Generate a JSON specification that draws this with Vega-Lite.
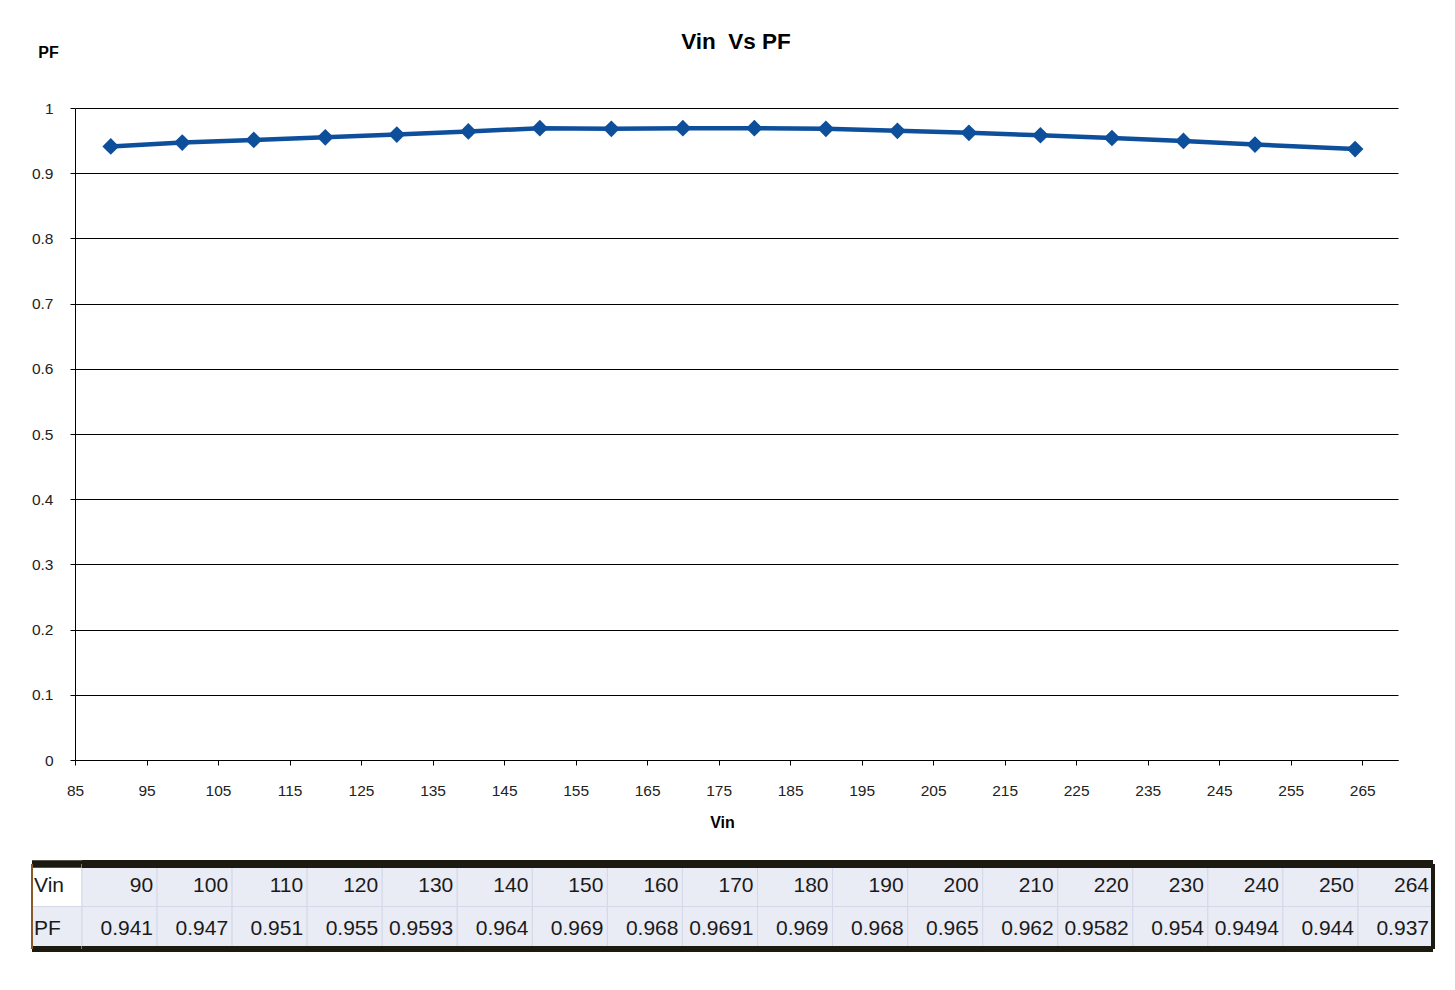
{
  "$schema": "https://vega.github.io/schema/vega-lite/v6.json",
  "background": "white",
  "padding": {"left": 28, "top": 30, "right": 10, "bottom": 10},
  "config": {
    "font": "Liberation Sans",
    "view": {"stroke": null}
  },
  "datasets": {
    "readings": [
      {"vin": 90, "pf": 0.941},
      {"vin": 100, "pf": 0.947},
      {"vin": 110, "pf": 0.951},
      {"vin": 120, "pf": 0.955},
      {"vin": 130, "pf": 0.9593},
      {"vin": 140, "pf": 0.964},
      {"vin": 150, "pf": 0.969},
      {"vin": 160, "pf": 0.968},
      {"vin": 170, "pf": 0.9691},
      {"vin": 180, "pf": 0.969},
      {"vin": 190, "pf": 0.968},
      {"vin": 200, "pf": 0.965},
      {"vin": 210, "pf": 0.962},
      {"vin": 220, "pf": 0.9582},
      {"vin": 230, "pf": 0.954},
      {"vin": 240, "pf": 0.9494},
      {"vin": 250, "pf": 0.944},
      {"vin": 264, "pf": 0.937}
    ],
    "rowNames": [
      {"row": "vin", "label": "Vin"},
      {"row": "pf", "label": "PF"}
    ]
  },
  "align": "none",
  "spacing": 30,
  "vconcat": [
    {
      "width": 1366,
      "height": 652,
      "data": {"name": "readings"},
      "title": {
        "text": "Vin\u00a0 Vs PF",
        "font": "Liberation Sans",
        "fontSize": 22.5,
        "fontWeight": "bold",
        "color": "#000000",
        "anchor": "middle",
        "dx": 21,
        "offset": -9
      },
      "mark": {
        "type": "line",
        "color": "#0E4F9C",
        "strokeWidth": 4.5,
        "point": {"shape": "diamond", "size": 280, "filled": true, "color": "#0E4F9C", "opacity": 1}
      },
      "encoding": {
        "x": {
          "field": "vin",
          "type": "quantitative",
          "scale": {"domain": [85, 270], "range": [43, 1366], "nice": false, "zero": false},
          "axis": {
            "title": "Vin",
            "values": [85, 95, 105, 115, 125, 135, 145, 155, 165, 175, 185, 195, 205, 215, 225, 235, 245, 255, 265],
            "grid": false,
            "domainColor": "#000000",
            "tickColor": "#000000",
            "tickSize": 5,
            "labelPadding": 18,
            "labelFontSize": 15.5,
            "labelColor": "#222222",
            "labelFlush": false,
            "titleFontSize": 16,
            "titleFontWeight": "bold",
            "titleColor": "#000000",
            "titleX": 690,
            "titleY": 67,
            "titleBaseline": "alphabetic"
          }
        },
        "y": {
          "field": "pf",
          "type": "quantitative",
          "scale": {"domain": [0, 1], "nice": false},
          "axis": {
            "title": "PF",
            "offset": -43,
            "values": [0, 0.1, 0.2, 0.3, 0.4, 0.5, 0.6, 0.7, 0.8, 0.9, 1],
            "format": ".1~f",
            "gridColor": "#000000",
            "gridOpacity": 1,
            "domainColor": "#000000",
            "tickColor": "#000000",
            "tickSize": 5,
            "labelPadding": 17,
            "labelFontSize": 15.5,
            "labelColor": "#222222",
            "labelFlush": false,
            "titleAngle": 0,
            "titleFontSize": 16,
            "titleFontWeight": "bold",
            "titleColor": "#000000",
            "titleX": -27,
            "titleY": -51,
            "titleAlign": "center",
            "titleBaseline": "alphabetic"
          }
        }
      }
    },
    {
      "spacing": 0,
      "bounds": "flush",
      "hconcat": [
        {
          "width": 50,
          "height": 85,
          "data": {"name": "rowNames"},
          "layer": [
            {
              "mark": {"type": "rect", "stroke": "#D3D9E8", "strokeWidth": 1},
              "encoding": {
                "y": {
                  "field": "row",
                  "type": "nominal",
                  "scale": {"domain": ["vin", "pf"], "paddingInner": 0, "paddingOuter": 0},
                  "axis": null
                },
                "fill": {"condition": {"test": "datum.row === 'vin'", "value": "#FFFFFF"}, "value": "#E9EBF5"}
              }
            },
            {
              "mark": {"type": "text", "align": "left", "baseline": "middle", "font": "Liberation Sans", "fontSize": 21, "color": "#1A1A1A", "dx": 2, "dy": 1},
              "encoding": {
                "x": {"datum": "h", "type": "nominal", "bandPosition": 0, "scale": {"type": "band", "paddingInner": 0, "paddingOuter": 0}, "axis": null},
                "y": {"field": "row", "type": "nominal"},
                "text": {"field": "label", "type": "nominal"}
              }
            },
            {
              "mark": {"type": "rule", "color": "#1C1A10", "strokeWidth": 7},
              "encoding": {"y": {"datum": "vin", "type": "nominal", "bandPosition": 0}}
            },
            {
              "mark": {"type": "rule", "color": "#1C1A10", "strokeWidth": 6},
              "encoding": {"y": {"datum": "pf", "type": "nominal", "bandPosition": 1}}
            },
            {
              "mark": {"type": "rule", "color": "#8A5A2A", "strokeWidth": 2},
              "encoding": {"x": {"datum": "h", "type": "nominal", "bandPosition": 0}}
            }
          ]
        },
        {
          "width": 1351,
          "height": 85,
          "data": {"name": "readings"},
          "transform": [{"fold": ["vin", "pf"], "as": ["row", "value"]}],
          "layer": [
            {
              "mark": {"type": "rect", "fill": "#E9EBF5", "stroke": "#D3D9E8", "strokeWidth": 1},
              "encoding": {
                "x": {"field": "vin", "type": "ordinal", "scale": {"paddingInner": 0, "paddingOuter": 0}, "axis": null},
                "y": {
                  "field": "row",
                  "type": "nominal",
                  "scale": {"domain": ["vin", "pf"], "paddingInner": 0, "paddingOuter": 0},
                  "axis": null
                }
              }
            },
            {
              "mark": {"type": "text", "align": "right", "baseline": "middle", "font": "Liberation Sans", "fontSize": 21, "color": "#1A1A1A", "dx": -4, "dy": 1},
              "encoding": {
                "x": {"field": "vin", "type": "ordinal", "bandPosition": 1},
                "y": {"field": "row", "type": "nominal"},
                "text": {"field": "value", "type": "nominal"}
              }
            },
            {
              "mark": {"type": "rule", "color": "#1C1A10", "strokeWidth": 7},
              "encoding": {"y": {"datum": "vin", "type": "nominal", "bandPosition": 0}}
            },
            {
              "mark": {"type": "rule", "color": "#1C1A10", "strokeWidth": 6},
              "encoding": {"y": {"datum": "pf", "type": "nominal", "bandPosition": 1}}
            },
            {
              "mark": {"type": "rule", "color": "#1C1A10", "strokeWidth": 3},
              "encoding": {"x": {"datum": 264, "type": "ordinal", "bandPosition": 1}}
            }
          ]
        }
      ]
    }
  ]
}
